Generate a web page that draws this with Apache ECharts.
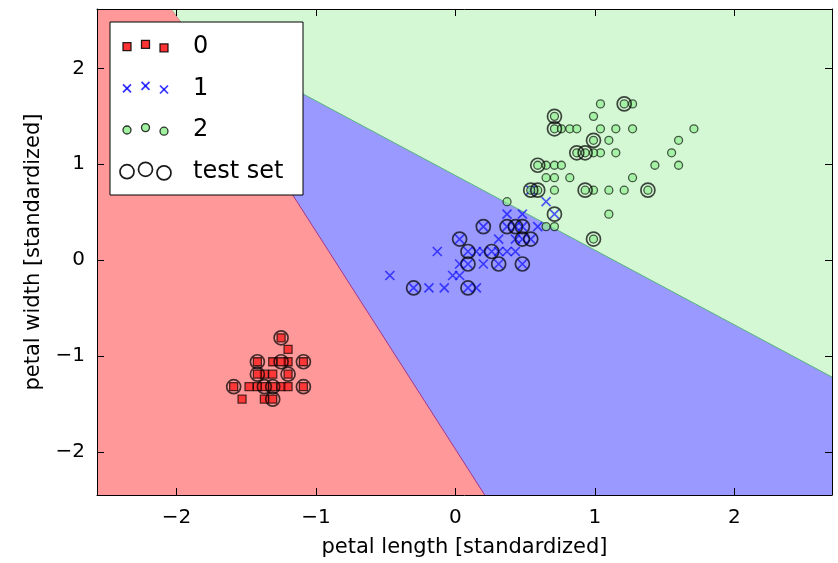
<!DOCTYPE html>
<html>
<head>
<meta charset="utf-8">
<script src="https://cdn.jsdelivr.net/npm/echarts@6/dist/echarts.min.js"></script>
<style>html,body{margin:0;padding:0;background:#fff}#c{width:838px;height:563px}</style>
</head>
<body>
<div id="c"></div>
<script>
// ---- data (standardized petal length, petal width) ----
const xRange = [-2.57, 2.70];
const yRange = [-2.45, 2.62];
const xTicks = [-2, -1, 0, 1, 2];
const yTicks = [-2, -1, 0, 1, 2];

// decision regions (polygon vertices in data units)
const regionRed = [[-2.57,2.62],[-2.04,2.62],[-1.91,2.37],[0.21,-2.45],[-2.57,-2.45]];
const regionGreen = [[-2.04,2.62],[2.70,2.62],[2.70,-1.22],[-1.91,2.37]];
const regionBlue = [[-1.91,2.37],[2.70,-1.22],[2.70,-2.45],[0.21,-2.45]];
const boundaryRedBlue = [[-1.91,2.37],[0.21,-2.45]];
const boundaryGreenBlue = [[-1.91,2.37],[2.70,-1.22]];
const boundaryRedGreen = [[-2.04,2.62],[-1.91,2.37]];

const class0 = [[-1.37,-1.32],[-1.42,-1.32],[-1.31,-1.32],[-1.20,-1.06],[-1.37,-1.19],[-1.31,-1.45],
  [-1.25,-1.32],[-1.37,-1.45],[-1.53,-1.45],[-1.48,-1.32],[-1.31,-1.06],[-1.42,-1.06],[-1.20,-1.19],
  [-1.31,-1.19],[-1.20,-1.32],[-1.59,-1.32],[-1.20,-0.93],[-1.09,-1.32],[-1.25,-1.06],[-1.42,-1.19],
  [-1.25,-0.81],[-1.09,-1.06]];
const class1 = [[0.48,0.22],[0.37,0.35],[0.59,0.35],[0.09,0.09],[0.43,0.35],[0.37,0.09],[0.48,0.48],
  [-0.30,-0.29],[0.43,0.09],[0.03,0.22],[-0.19,-0.29],[0.20,0.35],[0.09,-0.29],[-0.13,0.09],[0.31,0.22],
  [0.15,-0.29],[0.03,-0.16],[0.54,0.73],[0.48,-0.04],[0.26,0.09],[0.54,0.22],[0.65,0.61],[-0.02,-0.16],
  [-0.08,-0.29],[0.03,-0.04],[0.71,0.48],[0.37,0.48],[0.48,0.35],[0.31,0.09],[0.15,0.09],[0.31,-0.04],
  [0.43,0.22],[0.09,-0.04],[0.20,0.09],[0.20,-0.04],[-0.47,-0.16]];
const class2 = [[1.21,1.63],[0.71,0.86],[1.15,1.12],[0.99,0.73],[1.10,1.25],[1.55,1.12],[0.37,0.61],
  [1.38,0.73],[1.10,0.73],[1.27,1.63],[0.71,0.99],[0.82,0.86],[0.93,1.12],[0.65,0.99],[0.71,1.50],
  [0.82,1.37],[0.93,0.73],[1.60,1.25],[1.71,1.37],[0.65,0.35],[1.04,1.37],[0.59,0.99],[1.60,0.99],
  [0.59,0.73],[1.04,1.12],[1.21,0.73],[0.54,0.73],[0.99,1.12],[1.10,0.48],[1.27,0.86],[1.43,0.99],
  [0.99,1.25],[0.71,0.35],[0.99,0.22],[1.27,1.37],[0.99,1.50],[0.87,1.12],[0.71,1.37],[1.15,1.37],
  [1.04,1.63],[0.76,1.37],[0.65,0.86],[0.76,0.99],[0.87,1.37],[0.71,0.73]];
const testSet = [
  [-1.25,-0.81],[-1.42,-1.06],[-1.25,-1.06],[-1.09,-1.06],[-1.42,-1.19],[-1.20,-1.19],[-1.59,-1.32],
  [-1.09,-1.32],[-1.31,-1.45],[-1.37,-1.32],[-1.31,-1.32],
  [-0.30,-0.29],[0.09,-0.29],[0.03,0.22],[0.09,0.09],[0.09,-0.04],[0.20,0.35],[0.26,0.09],[0.31,-0.04],
  [0.48,-0.04],[0.37,0.35],[0.43,0.35],[0.48,0.35],[0.48,0.22],[0.54,0.22],[0.71,0.48],
  [1.21,1.63],[0.71,1.50],[0.71,1.37],[0.99,1.25],[0.87,1.12],[0.93,1.12],[0.59,0.99],[0.54,0.73],
  [0.59,0.73],[0.93,0.73],[1.38,0.73],[0.99,0.22]];
const legendLabels = ['0', '1', '2', 'test set'];

// ---- styles ----
const FONT = 'DejaVu Sans';
const regionColors = ['#ff9999', '#d3f8d3', '#9999ff'];
const regions = [regionRed, regionGreen, regionBlue];
const boundaries = [boundaryRedBlue, boundaryGreenBlue, boundaryRedGreen];
const boundaryColors = ['rgba(170,40,120,0.9)', 'rgba(80,185,110,0.9)', 'rgba(200,120,120,0.9)'];
const sty0 = {color:'rgba(255,0,0,0.8)', borderColor:'rgba(0,0,0,0.85)', borderWidth:1.3};
const sty1 = {color:'transparent', borderColor:'rgba(0,0,255,0.8)', borderWidth:1.7};
const sty2 = {color:'rgba(144,238,144,0.85)', borderColor:'rgba(0,0,0,0.8)', borderWidth:1.3};
const styT = {color:'transparent', borderColor:'rgba(0,0,0,0.9)', borderWidth:1.7};
const xPath = 'path://M0,0L10,10M0,10L10,0';

const fmt = v => (v < 0 ? '\u2212' : '') + Math.abs(v);

function mkX(pos, name) {
  const o = {type:'value', min:xRange[0], max:xRange[1], position:pos, z:20,
    axisLine:{show:true, onZero:false, lineStyle:{color:'#000', width:1}},
    axisTick:{show:true, inside:true, length:7, customValues:xTicks, lineStyle:{color:'#000'}},
    axisLabel:{show:pos==='bottom', customValues:xTicks, formatter:fmt, color:'#000', fontSize:20, fontFamily:FONT, margin:13},
    splitLine:{show:false}};
  if (name) { o.name = name; o.nameLocation = 'middle'; o.nameGap = 42;
    o.nameTextStyle = {color:'#000', fontSize:21, fontFamily:FONT}; }
  return o;
}
function mkY(pos, name) {
  const o = {type:'value', min:yRange[0], max:yRange[1], position:pos, z:20,
    axisLine:{show:true, onZero:false, lineStyle:{color:'#000', width:1}},
    axisTick:{show:true, inside:true, length:7, customValues:yTicks, lineStyle:{color:'#000'}},
    axisLabel:{show:pos==='left', customValues:yTicks, formatter:fmt, color:'#000', fontSize:20, fontFamily:FONT, margin:12},
    splitLine:{show:false}};
  if (name) { o.name = name; o.nameLocation = 'middle'; o.nameGap = 53; o.nameRotate = 90;
    o.nameTextStyle = {color:'#000', fontSize:21, fontFamily:FONT}; }
  return o;
}

// ---- legend drawn as graphic (3 scatter points per entry like matplotlib) ----
const lgRows = [46.7, 88.3, 130, 171.7];
const lgCols = [127, 145.5, 164];
const lgOff = [0, -2.4, 1.2];
const gEls = [{type:'rect', z:100, shape:{x:110, y:22, width:193, height:173},
  style:{fill:'#fff', stroke:'#000', lineWidth:1}}];
lgCols.forEach((cx, k) => {
  const oy = lgOff[k];
  gEls.push({type:'rect', z:101, shape:{x:cx-4, y:lgRows[0]+oy-4, width:8, height:8},
    style:{fill:sty0.color, stroke:sty0.borderColor, lineWidth:1.3}});
  gEls.push({type:'polyline', z:101, shape:{points:[[cx-4,lgRows[1]+oy-4],[cx+4,lgRows[1]+oy+4]]},
    style:{stroke:sty1.borderColor, lineWidth:1.7, fill:null}});
  gEls.push({type:'polyline', z:101, shape:{points:[[cx-4,lgRows[1]+oy+4],[cx+4,lgRows[1]+oy-4]]},
    style:{stroke:sty1.borderColor, lineWidth:1.7, fill:null}});
  gEls.push({type:'circle', z:101, shape:{cx:cx, cy:lgRows[2]+oy, r:4},
    style:{fill:sty2.color, stroke:sty2.borderColor, lineWidth:1.3}});
  gEls.push({type:'circle', z:101, shape:{cx:cx, cy:lgRows[3]+oy, r:7},
    style:{fill:null, stroke:styT.borderColor, lineWidth:1.7}});
});
legendLabels.forEach((t, i) => {
  gEls.push({type:'text', z:101, x:193, y:lgRows[i],
    style:{text:t, fontSize:24, fontFamily:FONT, fill:'#000', verticalAlign:'middle', align:'left'}});
});

const chart = echarts.init(document.getElementById('c'), null, {renderer:'canvas'});
chart.setOption({
  animation:false,
  backgroundColor:'#fff',
  grid:{left:97, right:6, top:9, bottom:64},
  xAxis:[mkX('bottom', 'petal length [standardized]'), mkX('top')],
  yAxis:[mkY('left', 'petal width [standardized]'), mkY('right')],
  graphic:{elements:gEls},
  series:[
    {type:'custom', silent:true, clip:true, z:1,
     data: regions.map((r, i) => [r[0][0], r[0][1], i]),
     encode:{x:0, y:1},
     renderItem:(params, api) => {
       const i = params.dataIndex;
       return {type:'polygon', shape:{points: regions[i].map(p => api.coord(p))},
               style:{fill: regionColors[i], stroke: regionColors[i], lineWidth:0.5}};
     }},
    {type:'custom', silent:true, clip:true, z:1.5,
     data: boundaries.map((b, i) => [b[0][0], b[0][1], i]),
     encode:{x:0, y:1},
     renderItem:(params, api) => {
       const i = params.dataIndex;
       return {type:'polyline', shape:{points: boundaries[i].map(p => api.coord(p))},
               style:{fill:null, stroke: boundaryColors[i], lineWidth:1}};
     }},
    {name:'0', type:'scatter', data:class0, symbol:'rect', symbolSize:8, itemStyle:sty0, silent:true, z:3},
    {name:'1', type:'scatter', data:class1, symbol:xPath, symbolSize:9, itemStyle:sty1, silent:true, z:4},
    {name:'2', type:'scatter', data:class2, symbol:'circle', symbolSize:8, itemStyle:sty2, silent:true, z:5},
    {name:'test set', type:'scatter', data:testSet, symbol:'circle', symbolSize:14, itemStyle:styT, silent:true, z:6}
  ]
});
</script>
</body>
</html>
